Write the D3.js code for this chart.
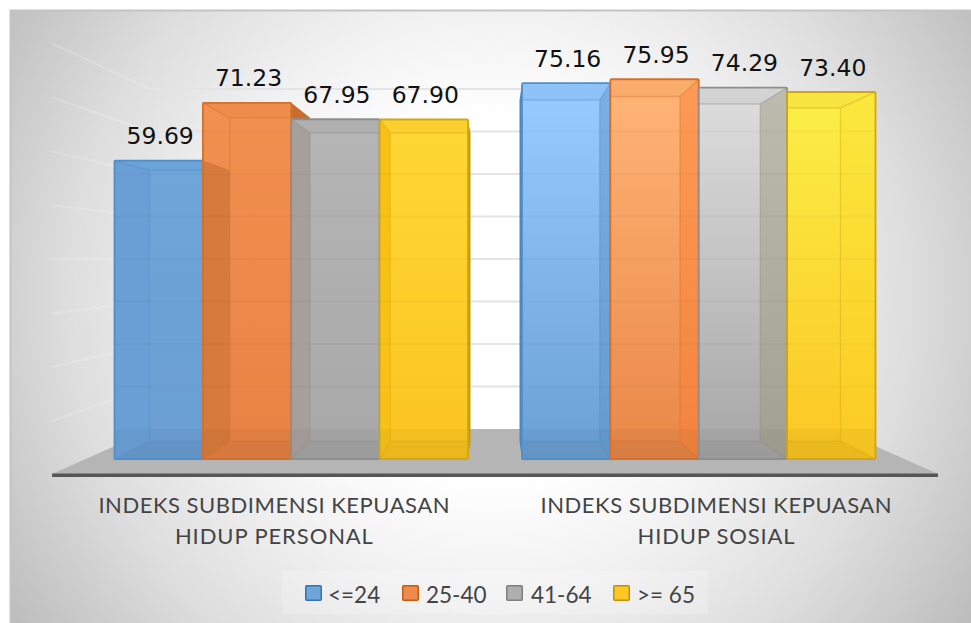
<!DOCTYPE html>
<html><head><meta charset="utf-8">
<script src="https://cdn.jsdelivr.net/npm/d3@7/dist/d3.min.js"></script>
<style>html,body{margin:0;padding:0;background:#fff;overflow:hidden}svg{display:block}</style>
</head><body><svg id="c" width="971" height="623"></svg>
<script>
const categories = [["INDEKS SUBDIMENSI KEPUASAN","HIDUP PERSONAL"],["INDEKS SUBDIMENSI KEPUASAN","HIDUP SOSIAL"]];
const seriesNames = ["<=24","25-40","41-64",">= 65"];
const personal = [59.69,71.23,67.95,67.90];
const sosial = [75.16,75.95,74.29,73.40];
const gridTicks = [10,20,30,40,50,60,70,80];
const strokeCols = ["#4f8fcc","#d4702c","#8e8e8e","#d2a612"];
const swatchCols = ["#6fa5d8","#ee8b4e","#aeaeae","#fdc726"];
const swatchEdge = ["#2e75b6","#c55a11","#7f7f7f","#bf9000"];
const frontLeft = [["#6fa5d9","#6b9fd4"],["#f19050","#e88244"],["#b5b5b5","#a8a8a8"],["#ffd835","#fbc421"]];
const frontRight = [["#99ccff","#6ba0d4"],["#ffb577","#ea8748"],["#dedede","#a6a6a6"],["#fbef48","#fcc623"]];
const sideLeft = ["#6a9fd5","#d67a3d","#a79f9b","#f8c214"];
const outerCols = ["#4a86c0","#c96c2e","#8f8f8f","#bd9a18"];
const sideRight = ["#5f94c9","#fb7f33","#9c9a80","#fbd81f"];
const sideRightAlpha = [.5,.5,.5,.25];

const svg = d3.select("#c");
const W=971,H=623;
const defs = svg.append("defs");
const bg = defs.append("radialGradient").attr("id","bg").attr("gradientUnits","userSpaceOnUse")
  .attr("cx",0).attr("cy",0).attr("r",1)
  .attr("gradientTransform","translate(490,300) scale(600,600)");
[[0,"#ffffff"],[.3,"#ffffff"],[.5,"#f0f0f0"],[.7,"#dedede"],[1,"#b8b8b8"]].forEach(s=>bg.append("stop").attr("offset",s[0]).attr("stop-color",s[1]));

svg.append("rect").attr("x",10).attr("y",10).attr("width",W-10).attr("height",H-10).attr("fill","url(#bg)");
svg.append("path").attr("d",`M10.5 ${H}V10.5H${W}`).attr("fill","none").attr("stroke","#c4c4c4").attr("stroke-width",2);

// perspective
const vx=495, vy=266, k=.908;
const px=x=>vx+(x-vx)*k, py=y=>vy+(y-vy)*k;
const y=d3.scaleLinear().domain([0,80]).range([459,59]);
const grid=d3.scaleLinear().domain([0,80]).range([429,89]);
const x0=d3.scaleBand().domain([0,1]).range([114.5,875.5]).paddingInner(.1325);
const x1=d3.scaleBand().domain(d3.range(4)).range([0,x0.bandwidth()]);
const sideY=v=>258+(grid(v)-258)*1.27;
const poly=(pts)=>"M"+pts.map(p=>p.join(",")).join("L")+"Z";

// floor
svg.append("path").attr("d",poly([[52,474],[938,474],[837,429],[153,429]])).attr("fill","#b5b5b5");

// gridlines
const gl=svg.append("g").attr("fill","none");
gridTicks.forEach(v=>{
  gl.append("path").attr("d",`M150 ${grid(v)}H840`).attr("stroke","#e4e4e4").attr("stroke-width",2);
  gl.append("path").attr("d",`M52 ${sideY(v)}L150 ${grid(v)}`).attr("stroke","#fff").attr("stroke-opacity",.2).attr("stroke-width",1.8);
});
svg.append("rect").attr("x",52).attr("y",473.5).attr("width",886).attr("height",3.5).attr("fill","#565656");

function bar(g,xa,xb,v,i,vals,cluster){
  const yt=y(v),yb=y(0);
  const bxa=px(xa),bxb=px(xb),byt=py(yt),byb=py(yb);
  const col=strokeCols[i];
  const gid=`f${cluster}${i}`;
  const fr=(cluster?frontRight:frontLeft)[i];
  const lg=defs.append("linearGradient").attr("id",gid).attr("x1",0).attr("x2",0).attr("y1",0).attr("y2",1);
  lg.append("stop").attr("offset",0).attr("stop-color",fr[0]);
  lg.append("stop").attr("offset",1).attr("stop-color",fr[1]);
  // outer faces
  if(cluster===0 && bxb>xb) g.append("path").attr("d",poly([[xb,yt],[bxb,byt],[bxb,byb],[xb,yb]])).attr("fill",outerCols[i]);
  if(cluster===1 && i===0) g.append("path").attr("d",poly([[xa,yt],[bxa,byt],[bxa,byb],[xa,yb]])).attr("fill",outerCols[i]);
  // front
  g.append("rect").attr("x",xa).attr("y",yt).attr("width",xb-xa).attr("height",yb-yt).attr("fill",`url(#${gid})`);
  // inner side faces
  if(cluster===0 && bxa>xa){
    const prevTop = i>0 ? Math.max(y(vals[i-1]),yt) : yt;
    const t = i>0 ? Math.max(py(y(vals[i-1])),byt) : byt;
    g.append("path").attr("d",poly([[xa,prevTop],[bxa,t],[bxa,byb],[xa,yb]])).attr("fill",sideLeft[i]);
  }
  if(cluster===1 && bxb<xb){
    g.append("path").attr("d",poly([[xb,yt],[bxb,byt],[bxb,byb],[xb,yb]])).attr("fill",sideRight[i]).attr("opacity",sideRightAlpha[i]);
  }
  // top and bottom faces
  const ixa=Math.max(bxa,xa), ixb=Math.min(bxb,xb);
  g.append("path").attr("d",poly([[xa,yt],[xb,yt],[ixb,byt],[ixa,byt]])).attr("fill",col).attr("opacity",.12);
  g.append("rect").attr("x",xa).attr("y",grid(0)).attr("width",xb-xa).attr("height",yb-grid(0)).attr("fill","#000").attr("opacity",.035);
  g.append("path").attr("d",poly([[xa,yb],[xb,yb],[ixb,byb],[ixa,byb]])).attr("fill","#000").attr("opacity",.035);
  // wire edges
  const e=g.append("g").attr("fill","none").attr("stroke",col).attr("stroke-width",1.4).attr("opacity",.38);
  e.append("path").attr("d",`M${ixa} ${byt}H${ixb}`);
  if(bxa>xa) e.append("path").attr("d",`M${xa} ${yt}L${ixa} ${byt}`);
  e.append("path").attr("d",`M${xa} ${yb}L${ixa} ${byb}M${xb} ${yb}L${ixb} ${byb}`);
  if(bxb<xb) e.append("path").attr("d",`M${xb} ${yt}L${ixb} ${byt}`);
  if(bxa>xa) e.append("path").attr("d",`M${bxa} ${byt}V${byb}`);
  if(bxb<xb) e.append("path").attr("d",`M${bxb} ${byt}V${byb}`);
  e.append("path").attr("d",`M${ixa} ${byb}H${ixb}`);
  // front edge
  g.append("rect").attr("x",xa).attr("y",yt).attr("width",xb-xa).attr("height",yb-yt).attr("rx",1)
    .attr("fill","none").attr("stroke",col).attr("stroke-width",1.8);
}

[personal,sosial].forEach((vals,c)=>{
  const g=svg.append("g");
  vals.forEach((v,i)=>{
    const xa=x0(c)+x1(i), xb=xa+x1.bandwidth();
    bar(g,xa,xb,v,i,vals,c);
  });
});

// faint gridlines seen through bars
const through=svg.append("g").attr("stroke","#000").attr("stroke-opacity",.025).attr("stroke-width",2);
gridTicks.forEach(v=>{
  [0,1].forEach(c=>{
    const vals=c?sosial:personal;
    vals.forEach((val,i)=>{
      const xa=x0(c)+x1(i);
      if(grid(v)>py(y(val))+2) through.append("line").attr("x1",xa).attr("x2",xa+x1.bandwidth()).attr("y1",grid(v)).attr("y2",grid(v));
    });
  });
});

// value labels
[personal,sosial].forEach((vals,c)=>{
  svg.append("g").selectAll("text").data(vals).join("text")
    .attr("x",(d,i)=>x0(c)+x1(i)+x1.bandwidth()/2+1.5)
    .attr("y",d=>y(d)-16.5)
    .attr("text-anchor","middle")
    .attr("font-family","'DejaVu Sans'").attr("font-size",23.5).attr("fill","#111")
    .text(d=>d.toFixed(2));
});

// category labels (spread outward by the same perspective)
const lineW=[[351,198],[351,157]];
categories.forEach((lines,c)=>{
  const cx=vx+(x0(c)+x0.bandwidth()/2-vx)*1.085;
  lines.forEach((t,j)=>{
    svg.append("text").attr("x",cx-lineW[c][j]/2).attr("y",513+j*31)
      .attr("text-anchor","start")
      .attr("textLength",lineW[c][j]).attr("lengthAdjust","spacing")
      .attr("font-family","Lato").attr("font-size",22).attr("fill","#444")
      .text(t);
  });
});

// legend
svg.append("rect").attr("x",282).attr("y",571).attr("width",426).attr("height",43).attr("fill","#fff").attr("opacity",.2);
const legendText=[328,426,531,637], legendSw=[305,402,506,613];
seriesNames.forEach((n,i)=>{
  svg.append("rect").attr("x",legendSw[i]+.75).attr("y",585.75).attr("width",15.5).attr("height",14.5).attr("rx",1)
    .attr("fill",swatchCols[i]).attr("stroke",swatchEdge[i]).attr("stroke-width",1.5);
  svg.append("text").attr("x",legendText[i]).attr("y",603)
    .attr("font-family","Lato").attr("font-size",22.5).attr("fill","#444").text(n);
});
</script></body></html>
